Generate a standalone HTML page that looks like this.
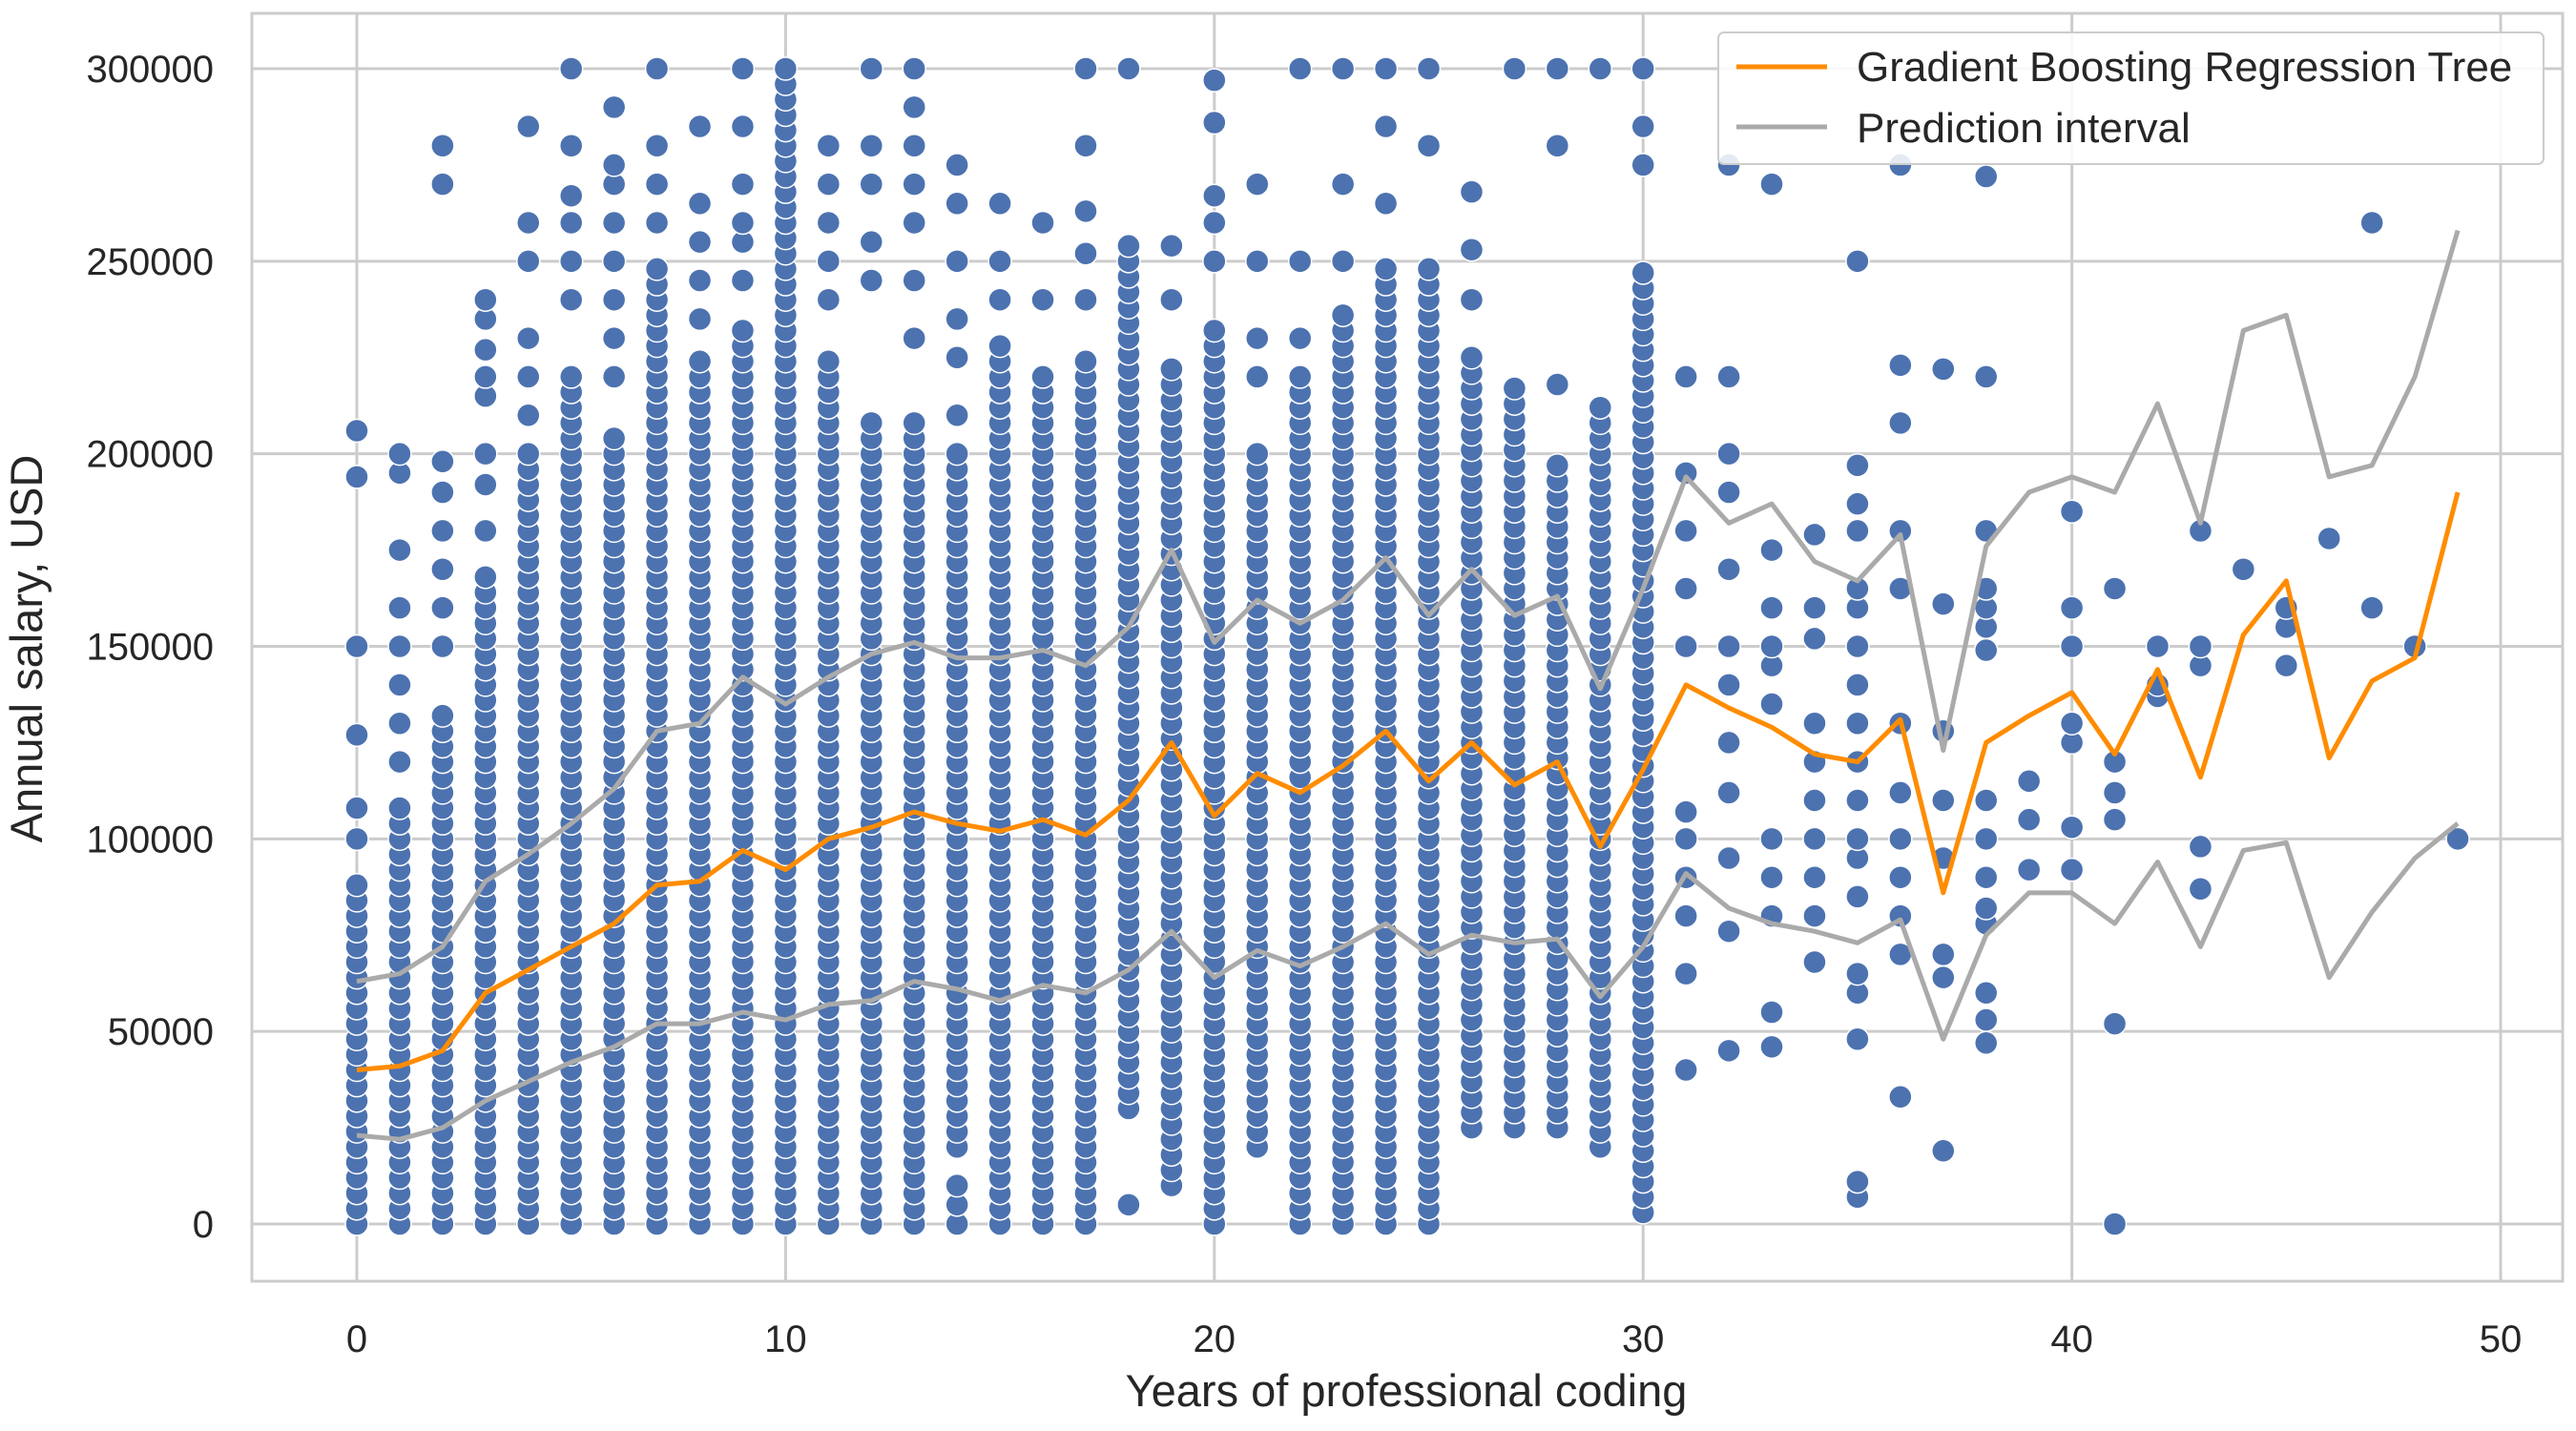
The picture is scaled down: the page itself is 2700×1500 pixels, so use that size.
<!DOCTYPE html>
<html><head><meta charset="utf-8"><style>
html,body{margin:0;padding:0;background:#fff;}
svg{display:block;font-family:"Liberation Sans",sans-serif;}
</style></head><body>
<svg id="chart" width="2700" height="1500" viewBox="0 0 2700 1500" xmlns="http://www.w3.org/2000/svg">
<rect x="0" y="0" width="2700" height="1500" fill="#fff"/>
<g id="grid"></g><g id="dots"></g><g id="lines"></g><g id="ticks"></g>
<rect x="264" y="14" width="2422" height="1329" fill="none" stroke="#cccccc" stroke-width="3"/>
<text x="1474" y="1474" font-size="47" text-anchor="middle" fill="#262626">Years of professional coding</text>
<text transform="translate(44,680) rotate(-90)" font-size="47" text-anchor="middle" fill="#262626">Annual salary, USD</text>
<g>
<rect x="1801" y="34" width="865" height="138" rx="6" fill="#fff" fill-opacity="0.85" stroke="#cccccc" stroke-width="2"/>
<line x1="1820" y1="70" x2="1915" y2="70" stroke="#ff8c00" stroke-width="5"/>
<text x="1946" y="85" font-size="44" fill="#262626">Gradient Boosting Regression Tree</text>
<line x1="1820" y1="133" x2="1915" y2="133" stroke="#aaaaaa" stroke-width="5"/>
<text x="1946" y="149" font-size="44" fill="#262626">Prediction interval</text>
</g>
</svg>
<script>
// data (salaries in thousands USD)
const denseMax = [90,110,135,170,200,220,205,250,225,235,300,225,210,210,200,230,220,225,255,225,235,200,222,236,250,250,225,220,200,212,250];
const denseMin = [0,0,0,0,0,0,0,0,0,0,0,0,0,0,20,0,0,0,30,10,0,20,0,0,0,0,25,25,25,20,3];
const extras = [
[100,108,127,150,194,206],[120,130,140,150,160,175,195,200],[150,160,170,180,190,198,270,280],[180,192,200,215,220,227,235,240],
[210,220,230,250,260,285],[240,250,260,267,280,300],[220,230,240,250,260,270,275,290],[260,270,280,300],
[235,245,255,265,285],[245,255,260,270,285,300],[],[240,250,260,270,280],[245,255,270,280,300],[230,245,260,270,280,290,300],
[0,5,10,210,225,235,250,265,275],[240,250,265],[240,260],[240,252,263,280,300],[5,300],[240,254],
[250,260,267,286,297],[220,230,250,270],[230,250,300],[250,270,300],[265,285,300],[280,300],[240,253,268],[300],[218,280,300],[300],[275,285,300],
[40,65,80,90,100,107,150,165,180,195,220],[45,76,95,112,125,140,150,170,190,200,220,275],[46,55,80,90,100,135,145,150,160,175,270],
[68,80,90,100,110,120,130,152,160,179],[7,11,48,60,65,85,95,100,110,120,130,140,150,160,165,180,187,197,250],
[33,70,80,90,100,112,130,165,180,208,223,275],[19,64,70,95,110,128,161,222],[47,53,60,78,82,90,100,110,149,155,160,165,180,220,272],
[92,105,115],[92,103,125,130,150,160,185],[0,52,105,112,120,165],[137,140,150],[87,98,145,150,180],[170],[145,155,160],[178],[160,260],[150],[100]
];
const years = Array.from({length:50},(_,i)=>i);
const gbrt = [40,41,45,60,66,72,78,88,89,97,92,100,103,107,104,102,105,101,110,125,106,117,112,119,128,115,125,114,120,98,118,140,134,129,122,120,131,86,125,132,138,122,144,116,153,167,121,141,147,190];
const upper = [63,65,72,89,96,104,113,128,130,142,135,142,148,151,147,147,149,145,155,175,151,162,156,162,173,158,170,158,163,139,165,194,182,187,172,167,179,123,176,190,194,190,213,182,232,236,194,197,220,258];
const lower = [23,22,25,32,37,42,46,52,52,55,53,57,58,63,61,58,62,60,66,76,64,71,67,72,78,70,75,73,74,59,72,91,82,78,76,73,79,48,75,86,86,78,94,72,97,99,64,81,95,104];
const xTicks = [0,10,20,30,40,50];
const yTicks = [0,50000,100000,150000,200000,250000,300000];

const NS="http://www.w3.org/2000/svg";
const X = v => 374 + v*(2621-374)/50;
const Y = v => 1283 - v*(1283-72)/300000;
function mk(tag,attrs,parent){const e=document.createElementNS(NS,tag);for(const k in attrs)e.setAttribute(k,attrs[k]);parent.appendChild(e);return e;}
const grid=document.getElementById('grid'),dots=document.getElementById('dots'),lines=document.getElementById('lines'),ticks=document.getElementById('ticks');
xTicks.forEach(t=>{
  const l=mk('line',{x1:X(t),x2:X(t),y1:14,y2:1343,stroke:'#cccccc','stroke-width':3},grid);
  
  
  const tx=mk('text',{x:X(t),y:1417,'font-size':40,'text-anchor':'middle',fill:'#262626'},ticks);
  tx.textContent=t;
  
  
});
yTicks.forEach(t=>{
  const l=mk('line',{x1:264,x2:2686,y1:Y(t),y2:Y(t),stroke:'#cccccc','stroke-width':3},grid);
  
  
  const tx=mk('text',{x:224,y:Y(t)+14,'font-size':40,'text-anchor':'end',fill:'#262626'},ticks);
  tx.textContent=t;
  
  
});
years.forEach(yr=>{
  let vals=[];
  if(yr<denseMax.length){for(let v=denseMin[yr];v<=denseMax[yr];v+=4)vals.push(v);}
  vals=vals.concat(extras[yr]||[]);
  vals.forEach(v=>{
    const c=mk('circle',{cx:X(yr),cy:Y(v*1000),r:12,fill:'#4c72b0',stroke:'#fff','stroke-width':1.5},dots);
    
    
  });
});
function line(arr,color,name){
  const d=arr.map((v,i)=>(i?'L':'M')+X(years[i])+','+Y(v*1000)).join(' ');
  const p=mk('path',{d:d,fill:'none',stroke:color,'stroke-width':5,'stroke-linejoin':'round'},lines);
  
  
}
line(upper,'#aaaaaa','upper-interval-line');
line(lower,'#aaaaaa','lower-interval-line');
line(gbrt,'#ff8c00','gbrt-line');
</script>
</body></html>
